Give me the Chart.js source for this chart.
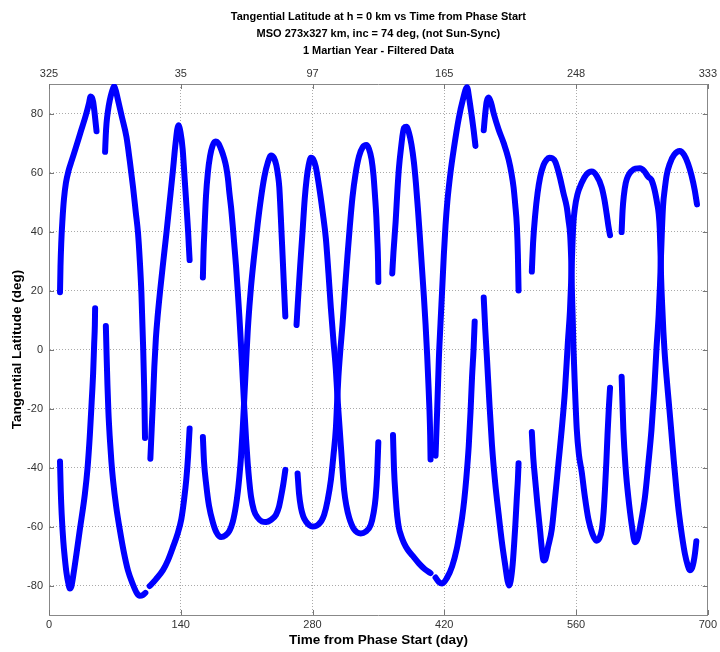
<!DOCTYPE html>
<html>
<head>
<meta charset="utf-8">
<script src="https://cdn.jsdelivr.net/npm/chart.js@4.4.0/dist/chart.umd.min.js"></script>
<style>
  body { margin: 0; background: #fff; }
</style>
</head>
<body>
<canvas id="latChart" width="720" height="652"></canvas>
<script>
// axis ticks
const dayTicks = [0, 140, 280, 420, 560, 700];
const lsLabels = ['325', '35', '97', '165', '248', '333'];   // Ls on the top axis
const latTicks = [-80, -60, -40, -20, 0, 20, 40, 60, 80];

// filtered tangent-point passes, [day, latitude deg]
const arc01 = [[11.7,19.4],[12.2,28],[13.0,36],[14.3,44],[15.9,51],[18.0,56.5],[20.7,60.5],[24.1,64],[28.6,68.5],[33.9,74],[39.2,79.5],[42.5,83.5],[44.2,85.8],[45.5,85.5],[46.9,84],[48.5,80],[49.5,77],[50.5,74]];
const arc02 = [[11.7,-38],[12.5,-48],[13.5,-56],[15.2,-65],[16.9,-71],[18.7,-76],[20.4,-79],[22.2,-81],[23.6,-80.5],[25.6,-77],[29.3,-69],[32.8,-61],[38.1,-49],[41.0,-40],[43.4,-29],[45.3,-18],[46.9,-8],[48.0,2],[48.7,8],[49.0,14]];
const arc03 = [[59.6,67],[60.3,72.5],[61.1,76.6],[62.7,81],[64.6,84.5],[66.8,87.3],[69.2,89.3],[71.2,87.5],[73.0,85],[77.3,79],[82.3,72],[85.8,64],[89.3,55],[92.2,46.5],[94.6,39.4],[96.5,30],[98.2,19],[99.9,2],[101.2,-14],[102.0,-30]];
const arc04 = [[60.4,8],[61.2,-2],[62.1,-12],[63.1,-21],[64.6,-30],[66.3,-38],[68.1,-44.5],[71.5,-53.5],[75.2,-61],[79.4,-68.5],[84.0,-75],[89.0,-79.5],[93.2,-82.5],[96.4,-83.5],[99.6,-83.3],[102.4,-82.5]];
const arc05 = [[107.0,-80.2],[113.3,-78],[121.1,-74.8],[126.6,-71.3],[131.7,-67],[136.1,-63],[140.6,-57.5],[143.5,-51],[145.9,-44],[147.8,-36],[149.4,-26.8]];
const arc06 = [[107.7,-37],[109.1,-27],[110.5,-17],[111.9,-6],[113.6,4],[115.5,11.5],[118.1,20],[121.3,29.5],[124.7,39.3],[128.2,50],[131.7,60.8],[134.5,70],[137.5,76],[139.8,73.5],[142.0,68],[144.1,58],[146.2,48],[147.8,40],[148.6,35],[149.4,30.3]];
const arc07 = [[163.5,24.4],[164.2,33],[165.3,41.6],[166.8,52],[168.8,60],[171.1,65.5],[173.7,69],[176.9,70.5],[180.1,69.8],[183.3,67.5],[185.9,65],[188.2,62],[190.1,58],[191.7,53],[193.5,48],[195.2,42],[197.0,35],[198.8,28],[200.5,20],[202.3,11],[204.1,1],[205.8,-9.5],[207.6,-20.5],[209.4,-30.5],[211.1,-38.5],[212.9,-45],[214.7,-50],[217.7,-54.5],[221.7,-57],[226.2,-58.3],[230.6,-58.5],[235.7,-57.8],[241.2,-56],[244.2,-53.5],[246.5,-50],[249.0,-45.5],[251.1,-40.8]];
const arc08 = [[163.5,-29.7],[164.7,-38],[167.1,-46],[170.0,-53],[174.0,-58.5],[177.9,-62],[182.9,-63.6],[187.5,-63],[191.7,-61.5],[195.2,-58.5],[198.6,-53],[200.7,-48],[202.3,-43],[204.1,-36],[205.8,-27],[207.6,-16],[209.4,-4.5],[211.1,6],[212.9,14.5],[214.7,21.5],[217.7,31],[221.7,42.5],[225.1,51],[228.8,58.5],[232.6,63.5],[235.9,65.8],[238.9,65],[241.5,62.5],[243.1,59.5],[244.7,55],[246.3,45],[248.2,31.7],[249.7,21],[251.1,11.2]];
const arc09 = [[263.0,8.3],[264.8,18],[266.9,28.5],[269.4,40],[271.7,51],[273.8,58],[275.9,62.5],[278.3,65],[280.7,64.5],[283.4,62],[287.1,55],[290.8,46.5],[294.2,37.5],[296.9,26],[299.5,14],[302.2,3],[304.8,-6.9],[306.1,-14],[307.5,-20.9],[310.1,-32.6],[311.8,-40.5],[313.6,-47.8],[316.0,-53],[318.9,-57],[324.2,-61],[331.3,-62.4],[336.3,-61.8],[341.8,-59.5],[344.8,-55.5],[347.1,-50],[348.7,-42],[349.9,-31.4]];
const arc10 = [[264.1,-42],[265.7,-49],[267.7,-53.6],[270.1,-56.5],[273.0,-58.3],[276.5,-59.5],[280.0,-60],[283.9,-59.8],[287.1,-59],[289.7,-58],[292.4,-56],[296.1,-51],[299.5,-44.3],[302.2,-36],[304.8,-26.8],[306.1,-18],[307.5,-9.2],[309.6,0],[311.8,8.3],[314.4,20],[317.1,31.7],[319.7,42],[322.4,51.5],[325.7,59.5],[329.4,65.5],[333.2,68.5],[337.2,69.3],[340.0,68],[342.7,64.5],[344.8,59],[346.4,52],[347.8,45],[348.8,37.5],[349.6,30],[349.9,22.9]];
const arc11 = [[364.7,25.8],[366.0,33],[368.3,43.3],[370.2,54],[371.8,61.5],[373.9,68],[377.1,75.1],[379.8,75.5],[382.4,73.5],[385.1,69.5],[387.7,63.5],[389.8,56.5],[391.9,48],[394.1,38],[396.2,28],[398.3,18],[400.1,8.5],[401.8,-2],[403.1,-11.5],[404.3,-21],[405.0,-29],[405.4,-37.3]];
const arc12 = [[365.5,-29],[366.5,-40],[368.3,-50],[370.0,-56.5],[371.8,-60.5],[374.0,-63],[377.0,-65.5],[381.0,-67.8],[386.0,-69.8],[393.0,-72.5],[399.4,-74.5],[405.4,-75.8]];
const arc13 = [[410.7,-36],[412.4,-20.9],[414.2,-3.4],[416.0,9],[417.7,20],[419.5,32],[421.3,42],[423.2,50],[426.6,60],[430.1,68],[435.4,78.4],[439.6,84.5],[444.2,88.9],[446.5,85],[448.1,81.5],[449.5,78.4],[451.3,74],[453.1,69]];
const arc14 = [[410.7,-77.3],[414.2,-78.8],[417.7,-79.3],[422.7,-77.5],[428.3,-73.5],[433.3,-67.5],[436.4,-62],[438.9,-57],[441.2,-51],[443.3,-44],[446.0,-32.6],[447.9,-21],[449.5,-9.2],[451.1,0],[452.3,9.5]];
const arc15 = [[461.9,74.3],[463.5,80],[465.0,84],[467.2,85.4],[469.8,83.5],[472.5,80],[477.8,74.5],[483.1,70],[488.3,64.5],[491.5,59.5],[493.6,55],[495.4,49],[497.1,42],[498.2,32],[498.9,20]];
const arc16 = [[461.9,17.6],[463.5,7],[465.4,-3.4],[467.9,-18],[470.7,-32.6],[474.0,-45],[477.8,-56],[481.5,-66],[484.9,-73.5],[487.3,-78.5],[488.9,-80],[490.5,-78.5],[492.6,-73],[494.2,-66],[495.4,-60],[497.1,-50],[498.2,-44],[498.9,-38.6]];
const arc17 = [[513.0,26.4],[514.3,36],[516.6,45.7],[519.1,53],[521.9,58.5],[525.4,62.5],[528.6,64.3],[531.5,65],[535.0,64.8],[538.1,63.5],[543.1,58],[546.6,53],[550.1,48.3],[551.9,44],[553.7,39],[554.9,30],[555.6,20],[556.5,10],[557.2,1],[558.8,-13],[560.7,-26.8],[563.0,-35.5],[566.0,-41.5],[569.4,-50],[573.1,-57.5],[577.4,-62.5],[581.9,-64.8],[584.7,-64],[587.4,-61],[589.3,-55],[590.8,-47],[592.2,-38],[593.4,-29],[594.8,-20],[596.1,-13]];
const arc18 = [[513.0,-28],[514.6,-37],[516.6,-44.3],[519.1,-53],[521.9,-61.8],[523.8,-68],[525.4,-71.5],[527.5,-71],[530.2,-67],[534.2,-61],[537.8,-50],[541.3,-38.5],[544.8,-27],[548.2,-14],[551.4,3],[553.5,13],[554.9,24],[556.0,34],[557.0,42],[558.8,48],[561.4,52.5],[566.0,56.5],[571.0,59.3],[576.6,60.3],[581.6,59],[587.2,55],[590.0,51],[592.5,46],[594.3,42],[596.1,38.7]];
const arc19 = [[608.4,39.8],[609.4,47],[610.7,52],[612.8,56.5],[615.5,59],[619.0,60.5],[622.9,61.3],[627.9,61.4],[632.4,60.5],[636.7,58.5],[640.1,57.5],[643.5,54],[646.2,49.5],[647.8,46],[648.9,41],[649.7,33],[650.4,24],[651.5,15],[652.8,6],[654.1,-1],[656.2,-9.5],[658.4,-17.5],[661.0,-27],[663.9,-38],[666.8,-48],[669.5,-56],[672.7,-63.5],[675.8,-69.5],[678.5,-73],[680.8,-74.8],[683.3,-74],[684.9,-72],[686.4,-69],[687.8,-65]];
const arc20 = [[608.4,-9.2],[609.3,-18],[610.2,-26.8],[612.6,-40],[615.5,-50],[619.2,-59.5],[622.6,-65.3],[625.5,-64],[628.7,-59],[633.2,-50],[636.7,-39],[640.1,-27.4],[643.0,-14],[645.4,0],[647.8,12],[649.2,22],[650.3,32],[651.3,41],[652.5,49],[654.3,54.5],[656.2,59],[659.6,63],[664.2,66],[670.2,67.3],[674.8,66],[679.0,63],[682.7,59],[686.1,54],[688.5,49.2]];

const arcs = [arc01, arc02, arc03, arc04, arc05, arc06, arc07, arc08, arc09, arc10,
              arc11, arc12, arc13, arc14, arc15, arc16, arc17, arc18, arc19, arc20];

const FONT = "'Liberation Sans', Arial, Helvetica, sans-serif";
const titleLines = [
    'Tangential Latitude at h = 0 km vs Time from Phase Start',
    'MSO 273x327 km, inc = 74 deg, (not Sun-Sync)',
    '1 Martian Year - Filtered Data'
];
const titleSize = 11, titleLH = 1.55, titlePadTop = 8;
const titleH = titlePadTop + titleLines.length * titleSize * titleLH;

// small inward tick marks, matlab style
const insideTicks = {
    id: 'insideTicks',
    afterDraw(chart) {
        const {ctx, chartArea: a, scales} = chart;
        ctx.save();
        ctx.strokeStyle = '#777';
        ctx.lineWidth = 1;
        ctx.beginPath();
        dayTicks.forEach(v => {
            const px = Math.round(scales.x.getPixelForValue(v)) + 0.5;
            ctx.moveTo(px, a.bottom); ctx.lineTo(px, a.bottom - 5);
            ctx.moveTo(px, a.top); ctx.lineTo(px, a.top + 5);
        });
        latTicks.forEach(v => {
            const py = Math.round(scales.y.getPixelForValue(v)) + 0.5;
            ctx.moveTo(a.left, py); ctx.lineTo(a.left + 5, py);
            ctx.moveTo(a.right, py); ctx.lineTo(a.right - 5, py);
        });
        ctx.stroke();
        ctx.restore();
    }
};

const ctx = document.getElementById('latChart').getContext('2d');
new Chart(ctx, {
    type: 'line',
    data: {
        datasets: arcs.map((arc, i) => ({
            label: 'pass ' + (i + 1),
            data: arc.map(p => ({x: p[0], y: p[1]})),
            borderColor: '#0000ff',
            borderWidth: 6,
            borderCapStyle: 'round',
            borderJoinStyle: 'round',
            pointRadius: 0,
            fill: false,
            cubicInterpolationMode: 'monotone'
        }))
    },
    options: {
        responsive: false,
        animation: false,
        layout: { padding: 0 },
        plugins: {
            legend: { display: false },
            tooltip: { enabled: false },
            title: {
                display: true,
                fullSize: false,
                text: titleLines,
                color: '#000',
                font: { family: FONT, size: titleSize, weight: 'bold', lineHeight: titleLH },
                padding: { top: titlePadTop, bottom: 0 }
            }
        },
        scales: {
            x: {
                type: 'linear',
                position: 'bottom',
                min: 0, max: 700,
                afterBuildTicks: axis => { axis.ticks = dayTicks.map(v => ({value: v})); },
                afterFit: s => { s.height = 37; },
                ticks: { color: '#333', font: { family: FONT, size: 11 }, padding: 3, maxRotation: 0 },
                grid: { color: '#aaa', lineWidth: 1, drawTicks: false },
                border: { display: true, color: '#888', dash: [1, 2] },
                title: {
                    display: true,
                    text: 'Time from Phase Start (day)',
                    color: '#000',
                    font: { family: FONT, size: 13.5, weight: 'bold' },
                    padding: { top: 0, bottom: 4 }
                }
            },
            x2: {
                type: 'linear',
                position: 'top',
                min: 0, max: 700,
                afterBuildTicks: axis => { axis.ticks = dayTicks.map(v => ({value: v})); },
                afterFit: s => { s.height = 84 - titleH; },
                ticks: {
                    color: '#333', font: { family: FONT, size: 11 }, padding: 3, maxRotation: 0,
                    callback: v => lsLabels[dayTicks.indexOf(v)]
                },
                grid: { drawOnChartArea: false, drawTicks: false },
                border: { display: true, color: '#888' }
            },
            y: {
                type: 'linear',
                position: 'left',
                min: -90, max: 90,
                afterBuildTicks: axis => { axis.ticks = latTicks.map(v => ({value: v})); },
                afterFit: s => { s.width = 49; },
                ticks: { color: '#333', font: { family: FONT, size: 11 }, padding: 6 },
                grid: { color: '#aaa', lineWidth: 1, drawTicks: false },
                border: { display: true, color: '#888', dash: [1, 2] },
                title: {
                    display: true,
                    text: 'Tangential Latitude (deg)',
                    color: '#000',
                    font: { family: FONT, size: 13.5, weight: 'bold' },
                    padding: { top: 9, bottom: 0 }
                }
            },
            y2: {
                type: 'linear',
                position: 'right',
                min: -90, max: 90,
                afterFit: s => { s.width = 10; },
                ticks: { display: false },
                grid: { drawOnChartArea: false, drawTicks: false },
                border: { display: true, color: '#888' }
            }
        }
    },
    plugins: [insideTicks]
});
</script>
</body>
</html>
